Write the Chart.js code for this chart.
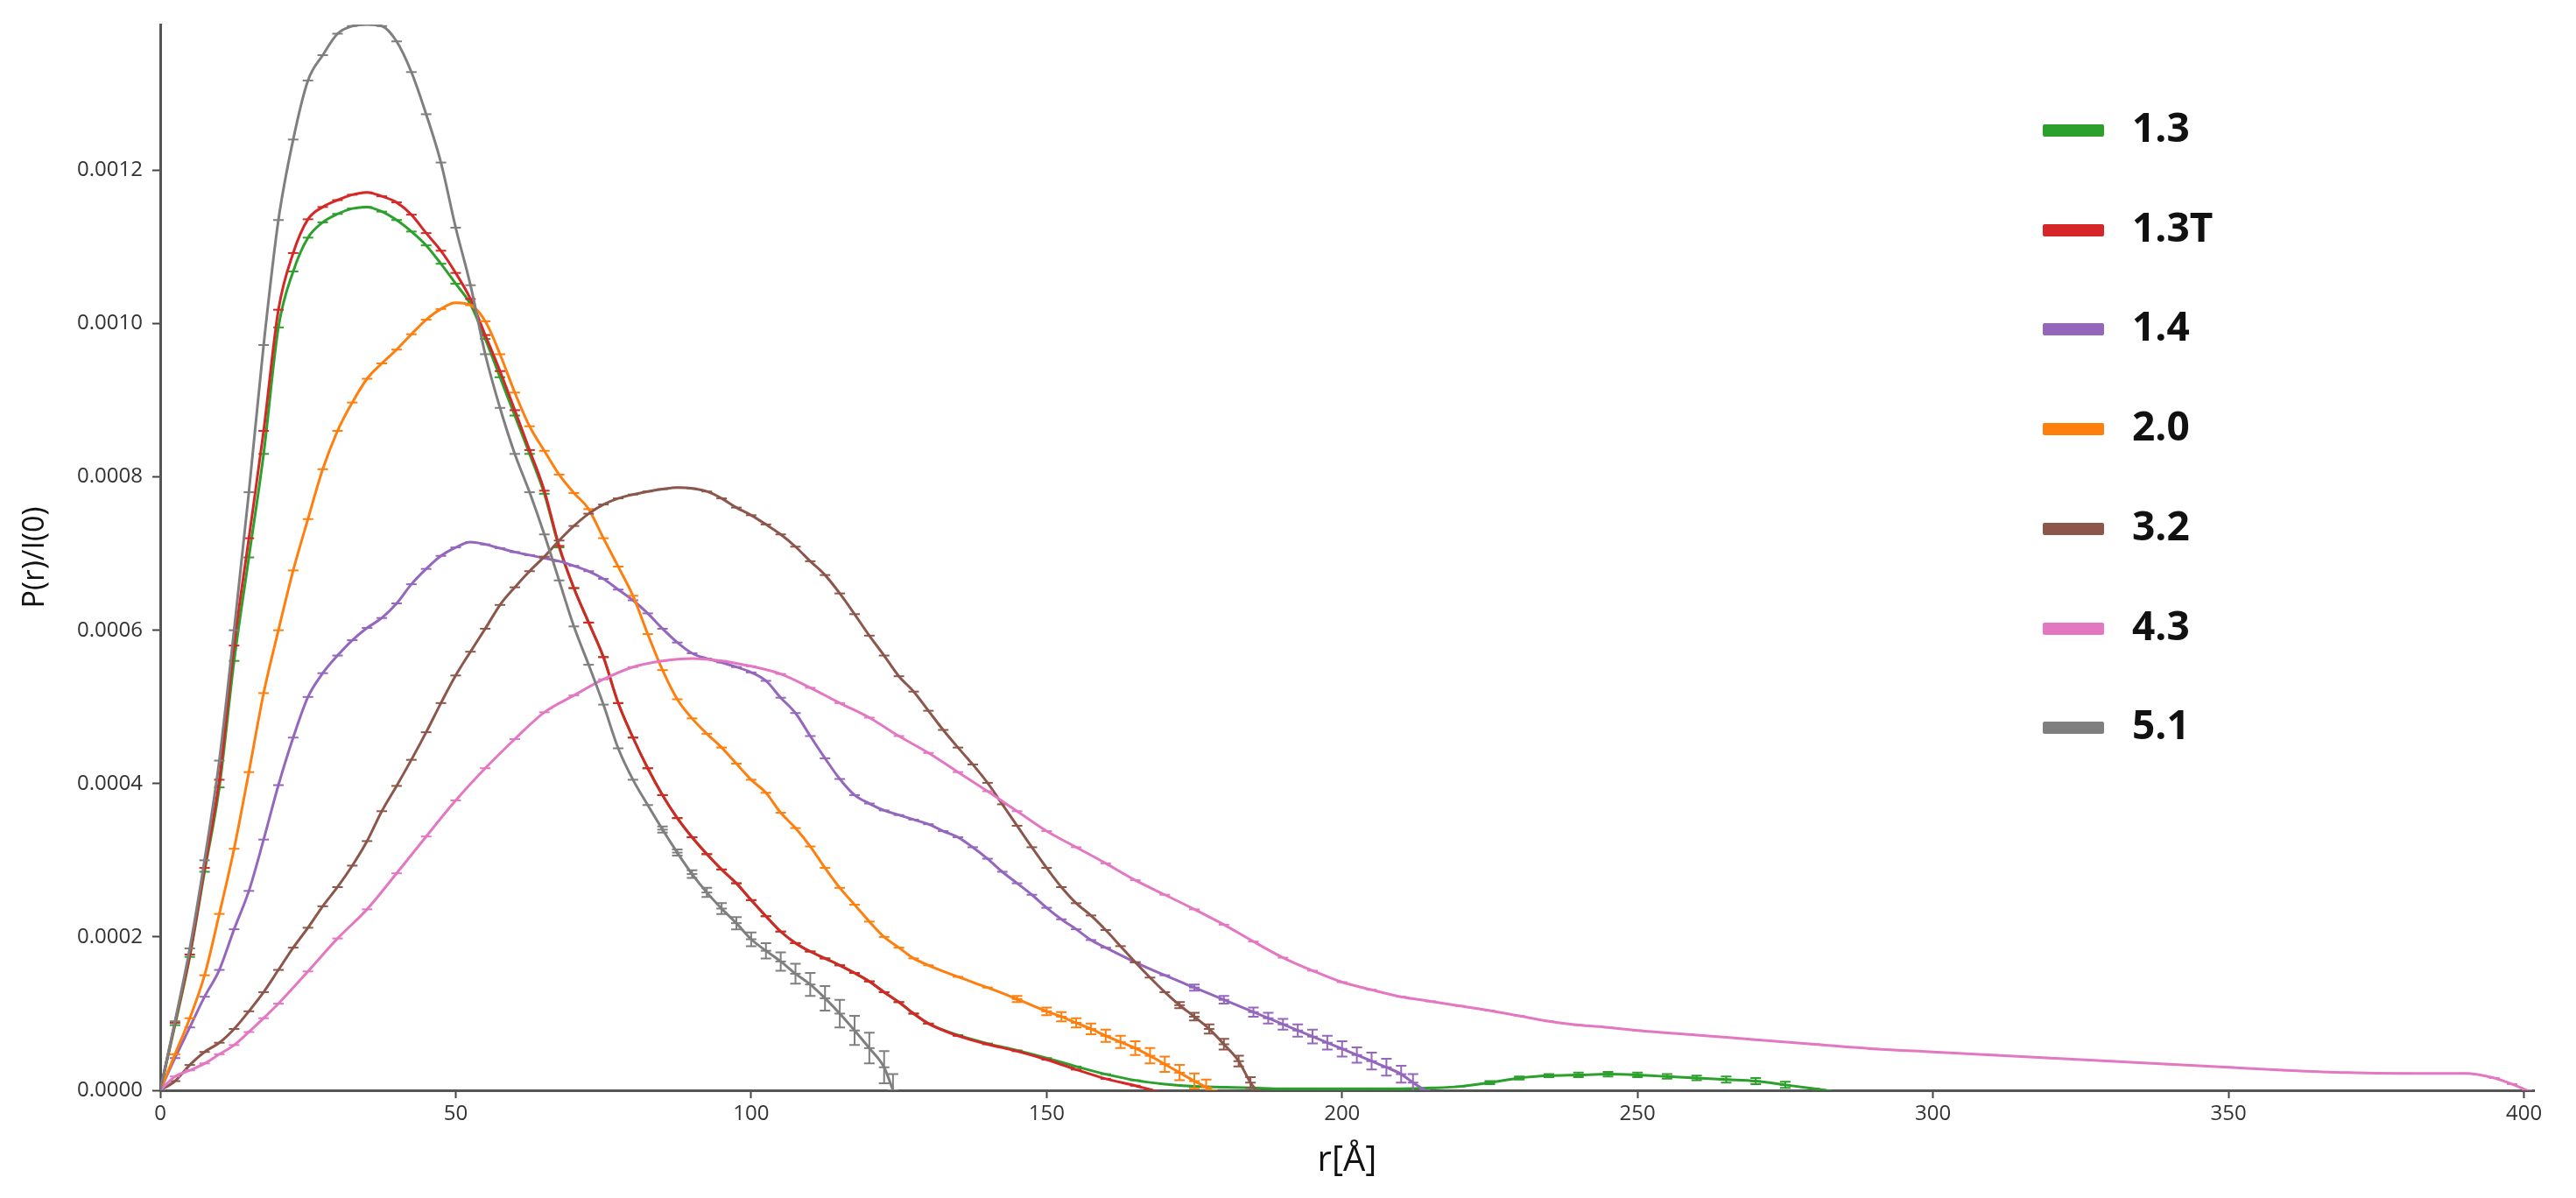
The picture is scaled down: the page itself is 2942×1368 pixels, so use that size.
<!DOCTYPE html>
<html>
<head>
<meta charset="utf-8">
<script src="https://cdn.jsdelivr.net/npm/chart.js@4.4.0/dist/chart.umd.min.js"></script>
<style>
  html, body { margin: 0; padding: 0; background: #ffffff; }
  #wrap { position: relative; width: 2942px; height: 1368px; }
  canvas { display: block; }
  #legend { position: absolute; left: 2333px; top: 0; font-family: "Open Sans", sans-serif; font-weight: 700; font-size: 46px; color: #111; }
  .item { position: absolute; left: 0; height: 60px; display: flex; align-items: center; white-space: nowrap; }
  .sw { width: 70px; height: 14px; border-radius: 2px; }
  .lab { margin-left: 32px; line-height: 60px; position: relative; top: -5px; }
</style>
</head>
<body>
<div id="wrap">
  <canvas id="c" width="2942" height="1368"></canvas>
  <div id="legend"></div>
</div>
<script>
// ---- data (P(r)/I(0) values in units of 1e-4, r in Å) ----
const seriesNames  = ["1.3", "1.3T", "1.4", "2.0", "3.2", "4.3", "5.1"];
const seriesColors = ["#2ca02c", "#d62728", "#9467bd", "#ff7f0e", "#8c564b", "#e377c2", "#7f7f7f"];

const r_13 = [0,2.5,5,7.5,10,12.5,15,17.5,20,22.5,25,27.5,30,32.5,35,37.5,40,42.5,45,47.5,50,52.5,55,57.5,60,62.5,65,67.5,70,72.5,75,77.5,80,82.5,85,87.5,90,92.5,95,97.5,100,102.5,105,107.5,110,112.5,115,117.5,120,122.5,125,127.5,130,135,140,145,150,155,160,165,170,175,180,185,190,195,200,205,210,215,220,225,230,235,240,245,250,255,260,265,270,275,280,282];
const p_13 = [0,0.85,1.74,2.85,3.95,5.6,6.95,8.3,9.95,10.68,11.12,11.32,11.43,11.5,11.52,11.46,11.35,11.2,11.02,10.78,10.52,10.25,9.8,9.3,8.8,8.3,7.78,7.08,6.55,6.1,5.65,5.05,4.6,4.2,3.85,3.55,3.3,3.08,2.88,2.7,2.48,2.27,2.07,1.92,1.81,1.72,1.63,1.53,1.42,1.28,1.15,1.0,0.87,0.72,0.61,0.52,0.42,0.31,0.21,0.13,0.08,0.05,0.04,0.03,0.02,0.02,0.02,0.02,0.02,0.03,0.05,0.1,0.16,0.19,0.2,0.21,0.2,0.18,0.16,0.14,0.12,0.07,0.02,0];
const eR_13 = [225,230,235,240,245,250,255,260,265,270,275];
const eV_13 = [0.02,0.02,0.02,0.03,0.03,0.03,0.03,0.03,0.04,0.04,0.04];

const r_13T = [0,2.5,5,7.5,10,12.5,15,17.5,20,22.5,25,27.5,30,32.5,35,37.5,40,42.5,45,47.5,50,52.5,55,57.5,60,62.5,65,67.5,70,72.5,75,77.5,80,82.5,85,87.5,90,92.5,95,97.5,100,102.5,105,107.5,110,112.5,115,117.5,120,122.5,125,127.5,130,135,140,145,150,155,160,165,168];
const p_13T = [0,0.88,1.77,2.9,4.05,5.8,7.2,8.6,10.18,10.92,11.36,11.52,11.61,11.68,11.71,11.66,11.58,11.42,11.18,10.95,10.66,10.32,9.85,9.38,8.87,8.35,7.82,7.1,6.55,6.1,5.65,5.05,4.6,4.2,3.85,3.55,3.3,3.08,2.88,2.7,2.48,2.27,2.07,1.92,1.81,1.72,1.63,1.53,1.42,1.28,1.15,1.0,0.87,0.71,0.6,0.51,0.4,0.27,0.15,0.06,0];

const r_14 = [0,2.5,5,7.5,10,12.5,15,17.5,20,22.5,25,27.5,30,32.5,35,37.5,40,42.5,45,47.5,50,52.5,55,57.5,60,62.5,65,67.5,70,72.5,75,77.5,80,82.5,85,87.5,90,92.5,95,97.5,100,102.5,105,107.5,110,112.5,115,117.5,120,122.5,125,127.5,130,132.5,135,137.5,140,142.5,145,147.5,150,152.5,155,157.5,160,165,170,175,180,185,187.5,190,192.5,195,197.5,200,202.5,205,207.5,210,212,214];
const p_14 = [0,0.42,0.82,1.22,1.57,2.1,2.6,3.27,3.98,4.6,5.13,5.44,5.67,5.87,6.03,6.16,6.35,6.6,6.8,6.97,7.08,7.15,7.12,7.07,7.02,6.98,6.94,6.9,6.84,6.77,6.67,6.53,6.39,6.22,6.02,5.84,5.7,5.63,5.58,5.52,5.45,5.34,5.12,4.92,4.62,4.33,4.06,3.85,3.74,3.65,3.59,3.53,3.47,3.38,3.3,3.17,3.02,2.85,2.7,2.55,2.38,2.23,2.1,1.96,1.86,1.67,1.5,1.34,1.18,1.02,0.94,0.86,0.78,0.7,0.62,0.54,0.46,0.38,0.3,0.21,0.1,0];
const eR_14 = [175,180,185,187.5,190,192.5,195,197.5,200,202.5,205,207.5,210,212];
const eV_14 = [0.04,0.05,0.06,0.07,0.07,0.08,0.09,0.09,0.1,0.1,0.11,0.11,0.11,0.11];

const r_20 = [0,2.5,5,7.5,10,12.5,15,17.5,20,22.5,25,27.5,30,32.5,35,37.5,40,42.5,45,47.5,50,52.5,55,57.5,60,62.5,65,67.5,70,72.5,75,77.5,80,82.5,85,87.5,90,92.5,95,97.5,100,102.5,105,107.5,110,112.5,115,117.5,120,122.5,125,127.5,130,135,140,145,150,152.5,155,157.5,160,162.5,165,167.5,170,172.5,175,177,178];
const p_20 = [0,0.47,0.94,1.5,2.3,3.15,4.15,5.18,6.0,6.78,7.45,8.1,8.6,8.97,9.28,9.48,9.66,9.86,10.05,10.19,10.27,10.24,10.03,9.6,9.1,8.66,8.34,8.03,7.79,7.58,7.2,6.83,6.45,5.95,5.48,5.1,4.85,4.65,4.47,4.26,4.05,3.88,3.62,3.42,3.18,2.9,2.64,2.42,2.2,2.0,1.86,1.72,1.63,1.48,1.34,1.19,1.03,0.96,0.88,0.8,0.71,0.63,0.55,0.45,0.34,0.23,0.12,0.04,0];
const eR_20 = [145,150,152.5,155,157.5,160,162.5,165,167.5,170,172.5,175,177];
const eV_20 = [0.04,0.05,0.06,0.06,0.07,0.08,0.08,0.09,0.1,0.1,0.1,0.1,0.1];

const r_32 = [0,2.5,5,7.5,10,12.5,15,17.5,20,22.5,25,27.5,30,32.5,35,37.5,40,42.5,45,47.5,50,52.5,55,57.5,60,62.5,65,67.5,70,72.5,75,77.5,80,82.5,85,87.5,90,92.5,95,97.5,100,102.5,105,107.5,110,112.5,115,117.5,120,122.5,125,127.5,130,132.5,135,137.5,140,142.5,145,147.5,150,152.5,155,157.5,160,162.5,165,167.5,170,172.5,175,177.5,180,182.5,184.5,185.5];
const p_32 = [0,0.12,0.33,0.5,0.62,0.8,1.03,1.28,1.57,1.86,2.12,2.4,2.65,2.93,3.25,3.64,3.97,4.31,4.67,5.05,5.41,5.72,6.02,6.33,6.56,6.77,6.96,7.17,7.36,7.52,7.64,7.72,7.77,7.81,7.84,7.86,7.85,7.81,7.72,7.6,7.5,7.38,7.25,7.09,6.9,6.72,6.48,6.21,5.93,5.67,5.4,5.2,4.95,4.7,4.47,4.25,4.01,3.73,3.45,3.17,2.9,2.65,2.44,2.28,2.09,1.88,1.67,1.47,1.28,1.11,0.96,0.8,0.6,0.38,0.1,0];
const eR_32 = [172.5,175,177.5,180,182.5,184.5];
const eV_32 = [0.04,0.05,0.06,0.07,0.07,0.07];

const r_43 = [0,2.5,5,7.5,10,12.5,15,17.5,20,25,30,35,40,45,50,55,60,65,70,75,80,85,90,95,100,105,110,115,120,125,130,135,140,145,150,155,160,165,170,175,180,185,190,195,200,205,210,215,220,225,230,235,240,245,250,260,270,280,290,300,310,320,330,340,350,360,370,380,390,395,398,400.5];
const p_43 = [0,0.18,0.26,0.35,0.47,0.59,0.76,0.94,1.13,1.55,1.98,2.36,2.83,3.31,3.78,4.2,4.58,4.93,5.15,5.36,5.52,5.6,5.63,5.6,5.53,5.43,5.25,5.05,4.86,4.62,4.4,4.15,3.9,3.64,3.38,3.17,2.96,2.74,2.55,2.36,2.16,1.94,1.73,1.56,1.41,1.31,1.22,1.16,1.1,1.04,0.97,0.9,0.85,0.82,0.78,0.72,0.66,0.6,0.54,0.5,0.46,0.42,0.38,0.34,0.3,0.26,0.23,0.22,0.22,0.16,0.08,0];

const r_51 = [0,2.5,5,7.5,10,12.5,15,17.5,20,22.5,25,27.5,30,32.5,35,37.5,40,42.5,45,47.5,50,52.5,55,57.5,60,62.5,65,67.5,70,72.5,75,77.5,80,82.5,85,87.5,90,92.5,95,97.5,100,102.5,105,107.5,110,112.5,115,117.5,120,122.5,124];
const p_51 = [0,0.9,1.85,3.0,4.3,6.0,7.8,9.72,11.35,12.4,13.17,13.5,13.78,13.88,13.9,13.88,13.68,13.28,12.73,12.1,11.25,10.5,9.6,8.9,8.3,7.8,7.25,6.65,6.05,5.55,5.03,4.46,4.05,3.72,3.4,3.1,2.82,2.58,2.37,2.18,1.97,1.82,1.68,1.52,1.38,1.2,1.0,0.78,0.55,0.3,0];
const eR_51 = [85,87.5,90,92.5,95,97.5,100,102.5,105,107.5,110,112.5,115,117.5,120,122.5,124];
const eV_51 = [0.04,0.04,0.05,0.06,0.07,0.08,0.09,0.1,0.12,0.13,0.15,0.16,0.18,0.19,0.2,0.21,0.21];

const xTicks = [0, 50, 100, 150, 200, 250, 300, 350, 400];
const yTicks = [0.0000, 0.0002, 0.0004, 0.0006, 0.0008, 0.0010, 0.0012];
const X_MAX = 401.7;
const Y_MAX = 0.00139;

// ---- build ----
const rArrays = [r_13, r_13T, r_14, r_20, r_32, r_43, r_51];
const pArrays = [p_13, p_13T, p_14, p_20, p_32, p_43, p_51];
const eRArrays = [eR_13, null, eR_14, eR_20, eR_32, null, eR_51];
const eVArrays = [eV_13, null, eV_14, eV_20, eV_32, null, eV_51];
const drawOrder = [6, 5, 4, 3, 2, 1, 0]; // later series drawn on top

const datasets = seriesNames.map((name, i) => ({
  label: name,
  data: rArrays[i].map((r, k) => ({ x: r, y: pArrays[i][k] * 1e-4 })),
  errR: eRArrays[i],
  errV: eVArrays[i],
  borderColor: seriesColors[i],
  backgroundColor: seriesColors[i],
  borderWidth: 3,
  showLine: true,
  fill: false,
  cubicInterpolationMode: 'monotone',
  pointStyle: 'line',
  pointRadius: 6,
  pointBorderWidth: 2,
  pointBorderColor: seriesColors[i],
  pointHoverRadius: 6,
  order: drawOrder[i]
}));

// vertical error bars with caps, drawn through the scales
const errorBars = {
  id: 'errorBars',
  afterDatasetDraw(chart, args) {
    const ds = chart.data.datasets[args.index];
    if (!ds.errR) return;
    const { ctx, chartArea } = chart;
    const xs = chart.scales.x, ys = chart.scales.y;
    ctx.save();
    ctx.beginPath();
    ctx.rect(chartArea.left, chartArea.top, chartArea.right - chartArea.left, chartArea.bottom - chartArea.top);
    ctx.clip();
    ctx.strokeStyle = ds.borderColor;
    ctx.lineWidth = 2;
    ds.errR.forEach((r, k) => {
      const pt = ds.data.find(p => p.x === r);
      if (!pt) return;
      const e = ds.errV[k] * 1e-4;
      const px = xs.getPixelForValue(r);
      const yTop = ys.getPixelForValue(pt.y + e);
      const yBot = ys.getPixelForValue(pt.y - e);
      ctx.beginPath();
      ctx.moveTo(px, yTop); ctx.lineTo(px, yBot);
      ctx.moveTo(px - 6, yTop); ctx.lineTo(px + 6, yTop);
      ctx.moveTo(px - 6, yBot); ctx.lineTo(px + 6, yBot);
      ctx.stroke();
    });
    ctx.restore();
  }
};

const tickFont = { family: "Open Sans", size: 24 };

new Chart(document.getElementById('c'), {
  type: 'scatter',
  data: { datasets },
  plugins: [errorBars],
  options: {
    responsive: false,
    animation: false,
    devicePixelRatio: 1,
    layout: { padding: { left: 0, right: 48, top: 28, bottom: 0 } },
    plugins: { legend: { display: false }, tooltip: { enabled: false } },
    scales: {
      x: {
        type: 'linear', min: 0, max: X_MAX,
        afterBuildTicks: (s) => { s.ticks = xTicks.map(v => ({ value: v })); },
        ticks: { font: tickFont, color: '#333', padding: 4, maxRotation: 0, autoSkip: false,
                 callback: (v) => String(v) },
        grid: { display: true, drawOnChartArea: false, drawTicks: true, tickLength: 9, tickWidth: 2, tickColor: '#444' },
        border: { display: true, color: '#555', width: 3 },
        title: { display: true, text: 'r[Å]', color: '#111', font: { family: "Open Sans", size: 40 }, padding: { top: 0, bottom: 18 } },
        afterFit: (s) => { s.height = 123; }
      },
      y: {
        type: 'linear', min: 0, max: Y_MAX,
        afterBuildTicks: (s) => { s.ticks = yTicks.map(v => ({ value: v })); },
        ticks: { font: tickFont, color: '#333', padding: 11, autoSkip: false,
                 callback: (v) => Number(v).toFixed(4) },
        grid: { display: true, drawOnChartArea: false, drawTicks: true, tickLength: 9, tickWidth: 2, tickColor: '#444' },
        border: { display: true, color: '#555', width: 3 },
        title: { display: true, text: 'P(r)/I(0)', color: '#111', font: { family: "Open Sans", size: 34 }, padding: { top: 20, bottom: 0 } },
        afterFit: (s) => { s.width = 183; }
      }
    }
  }
});

// ---- legend (HTML) ----
const legendRowsY = [149, 262.7, 376.4, 490, 603.8, 717.5, 831.2];
const lg = document.getElementById('legend');
seriesNames.forEach((name, i) => {
  const it = document.createElement('div');
  it.className = 'item';
  it.style.top = (legendRowsY[i] - 30) + 'px';
  const sw = document.createElement('div');
  sw.className = 'sw';
  sw.style.background = seriesColors[i];
  const lab = document.createElement('span');
  lab.className = 'lab';
  lab.textContent = name;
  it.appendChild(sw); it.appendChild(lab);
  lg.appendChild(it);
});
</script>
</body>
</html>
